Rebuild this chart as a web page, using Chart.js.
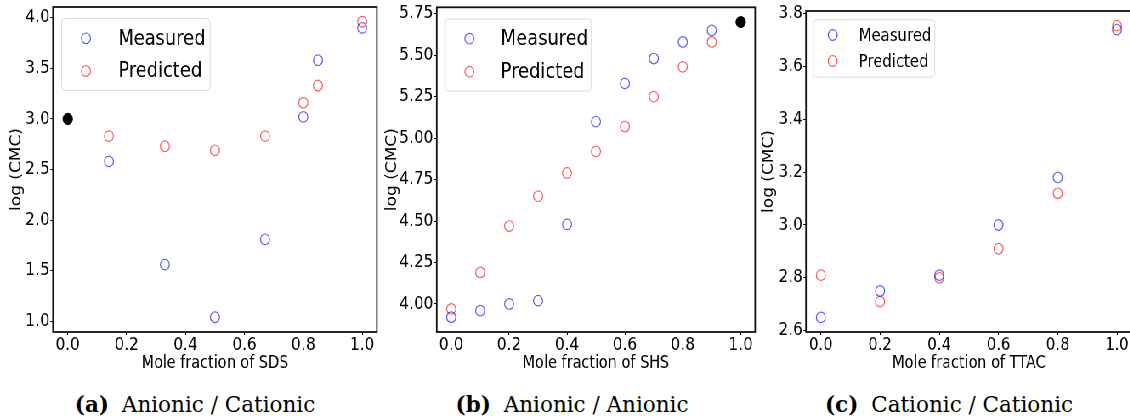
<!DOCTYPE html>
<html>
<head>
<meta charset="utf-8">
<script src="https://cdn.jsdelivr.net/npm/chart.js@4.4.1/dist/chart.umd.min.js"></script>
<style>
  body { margin: 0; background: #fff; width: 1130px; height: 418px; overflow: hidden; position: relative; }
  /* the source figure is squeezed horizontally, so the plots are drawn wider and scaled down */
  #plots { position: absolute; left: 0; top: 0; width: 1340px; height: 380px; transform: scaleX(0.85); transform-origin: 0 0; }
  #plots canvas { position: absolute; top: 0; }
  .caption { position: absolute; top: 392px; width: 300px; text-align: center; font-family: "DejaVu Serif", serif; font-size: 21.5px; color: #000; white-space: nowrap; }
  .caption b { margin-right: 6px; }
</style>
</head>
<body>
<div id="plots">
  <canvas id="chart-a" width="450" height="378" style="left:0px"></canvas>
  <canvas id="chart-b" width="455" height="378" style="left:440px"></canvas>
  <canvas id="chart-c" width="453" height="378" style="left:885px"></canvas>
</div>
<div class="caption" style="left:45px"><b>(a)</b> Anionic / Cationic</div>
<div class="caption" style="left:422px"><b>(b)</b> Anionic / Anionic</div>
<div class="caption" style="left:799px"><b>(c)</b> Cationic / Cationic</div>

<script>
// Shared x ticks
const xTicks = [0.0, 0.2, 0.4, 0.6, 0.8, 1.0];

// (a) SDS mixtures
const sdsFraction = [0.14, 0.33, 0.5, 0.67, 0.8, 0.85, 1.0];
const sdsMeasured = [2.58, 1.56, 1.04, 1.81, 3.02, 3.58, 3.90];
const sdsPredicted = [2.83, 2.73, 2.69, 2.83, 3.16, 3.33, 3.96];
const sdsPureX = [0.0];
const sdsPureY = [3.0];
const sdsYTicks = [1.0, 1.5, 2.0, 2.5, 3.0, 3.5, 4.0];

// (b) SHS mixtures
const shsFraction = [0.0, 0.1, 0.2, 0.3, 0.4, 0.5, 0.6, 0.7, 0.8, 0.9];
const shsMeasured = [3.92, 3.96, 4.00, 4.02, 4.48, 5.10, 5.33, 5.48, 5.58, 5.65];
const shsPredicted = [3.97, 4.19, 4.47, 4.65, 4.79, 4.92, 5.07, 5.25, 5.43, 5.58];
const shsPureX = [1.0];
const shsPureY = [5.70];
const shsYTicks = [4.0, 4.25, 4.5, 4.75, 5.0, 5.25, 5.5, 5.75];

// (c) TTAC mixtures
const ttacFraction = [0.0, 0.2, 0.4, 0.6, 0.8, 1.0];
const ttacMeasured = [2.65, 2.75, 2.81, 3.00, 3.18, 3.74];
const ttacPredicted = [2.81, 2.71, 2.80, 2.91, 3.12, 3.755];
const ttacYTicks = [2.6, 2.8, 3.0, 3.2, 3.4, 3.6, 3.8];

const FONT = 'DejaVu Sans';

function toPoints(xs, ys) {
    return xs.map((x, i) => ({ x: x, y: ys[i] }));
}

// matplotlib style 5% margin around the data
function padRange(lists) {
    const all = [].concat(...lists);
    const lo = Math.min(...all), hi = Math.max(...all);
    const m = (hi - lo) * 0.05;
    return [lo - m, hi + m];
}

// box round the plot area, like the matplotlib spines
const framePlugin = {
    id: 'frame',
    afterDatasetsDraw(chart) {
        const a = chart.chartArea, ctx = chart.ctx;
        ctx.save();
        ctx.strokeStyle = '#111';
        ctx.lineWidth = 1.8;
        ctx.strokeRect(a.left, a.top, a.right - a.left, a.bottom - a.top);
        ctx.restore();
    }
};

// legend inside the axes with a rounded frame
const boxLegendPlugin = {
    id: 'boxLegend',
    afterDraw(chart, args, opts) {
        const a = chart.chartArea, ctx = chart.ctx;
        const items = chart.data.datasets.filter(d => d.label);
        ctx.save();
        ctx.font = opts.fontSize + 'px ' + FONT;
        const textW = Math.max(...items.map(d => ctx.measureText(d.label).width));
        const x0 = a.left + opts.x, y0 = a.top + opts.y;
        const w = opts.textX + textW + opts.padRight - opts.x;
        ctx.beginPath();
        ctx.roundRect(x0, y0, w, opts.height, 4);
        ctx.fillStyle = 'rgba(255,255,255,0.85)';
        ctx.fill();
        ctx.strokeStyle = '#dcdcdc';
        ctx.lineWidth = 1;
        ctx.stroke();
        items.forEach((d, i) => {
            const cy = a.top + opts.rows[i];
            ctx.beginPath();
            ctx.arc(a.left + opts.markerX, cy, d.pointRadius, 0, Math.PI * 2);
            ctx.strokeStyle = d.borderColor;
            ctx.lineWidth = d.borderWidth;
            ctx.stroke();
            ctx.fillStyle = '#000';
            ctx.textBaseline = 'middle';
            ctx.textAlign = 'left';
            ctx.fillText(d.label, a.left + opts.textX, cy + 1);
        });
        ctx.restore();
    }
};

function makeChart(id, cfg) {
    const yRange = padRange(cfg.yData);
    new Chart(document.getElementById(id), {
        type: 'scatter',
        data: {
            datasets: [
                {
                    label: 'Measured',
                    data: toPoints(cfg.x, cfg.measured),
                    pointStyle: 'circle',
                    pointRadius: 5.3,
                    pointHoverRadius: 5.3,
                    borderWidth: 1.2,
                    borderColor: 'rgba(0,0,255,0.65)',
                    backgroundColor: 'rgba(0,0,0,0)'
                },
                {
                    label: 'Predicted',
                    data: toPoints(cfg.x, cfg.predicted),
                    pointStyle: 'circle',
                    pointRadius: 5.3,
                    pointHoverRadius: 5.3,
                    borderWidth: 1.2,
                    borderColor: 'rgba(255,0,0,0.65)',
                    backgroundColor: 'rgba(0,0,0,0)'
                },
                {
                    label: '',
                    data: cfg.pureX ? toPoints(cfg.pureX, cfg.pureY) : [],
                    pointStyle: 'circle',
                    pointRadius: 5.6,
                    pointHoverRadius: 5.6,
                    borderWidth: 1,
                    borderColor: '#000',
                    backgroundColor: '#000'
                }
            ]
        },
        options: {
            responsive: false,
            animation: false,
            devicePixelRatio: 1,
            layout: { padding: cfg.padding },
            plugins: {
                legend: { display: false },
                tooltip: { enabled: false },
                boxLegend: cfg.legend
            },
            scales: {
                x: {
                    type: 'linear',
                    min: -0.05,
                    max: 1.05,
                    afterBuildTicks: s => { s.ticks = xTicks.map(v => ({ value: v })); },
                    afterFit: s => { s.height = 46; s.paddingLeft = 0; s.paddingRight = 0; },
                    grid: { display: true, drawOnChartArea: false, drawTicks: true, tickLength: 3, color: '#000' },
                    border: { display: false },
                    ticks: {
                        color: '#000',
                        font: { family: FONT, size: cfg.tickSize },
                        padding: 0,
                        maxRotation: 0,
                        autoSkip: false,
                        callback: v => v.toFixed(1)
                    },
                    title: {
                        display: true,
                        text: cfg.xTitle,
                        color: '#000',
                        font: { family: FONT, size: 17 },
                        padding: { top: 4, bottom: 4 }
                    }
                },
                y: {
                    type: 'linear',
                    min: yRange[0],
                    max: yRange[1],
                    afterBuildTicks: s => { s.ticks = cfg.yTicks.map(v => ({ value: v })); },
                    afterFit: s => { s.width = cfg.yWidth; s.paddingTop = 0; s.paddingBottom = 0; },
                    grid: { display: true, drawOnChartArea: false, drawTicks: true, tickLength: 3, color: '#000' },
                    border: { display: false },
                    ticks: {
                        color: '#000',
                        font: { family: FONT, size: cfg.tickSize },
                        padding: 1,
                        autoSkip: false,
                        callback: v => v.toFixed(cfg.yDecimals)
                    },
                    title: {
                        display: true,
                        text: 'log (CMC)',
                        color: '#000',
                        font: { family: FONT, size: 17 },
                        padding: { top: 4, bottom: 4 }
                    }
                }
            }
        },
        plugins: [framePlugin, boxLegendPlugin]
    });
}

makeChart('chart-a', {
    x: sdsFraction, measured: sdsMeasured, predicted: sdsPredicted,
    pureX: sdsPureX, pureY: sdsPureY,
    yData: [sdsMeasured, sdsPredicted, sdsPureY],
    yTicks: sdsYTicks, yDecimals: 1, yWidth: 57.35, tickSize: 18,
    xTitle: 'Mole fraction of SDS',
    padding: { left: 5, top: 7, right: 4.1, bottom: 0 },
    legend: { x: 10.2, y: 11.5, height: 72, markerX: 38.8, textX: 76.8, padRight: 5.5, rows: [31.3, 64], fontSize: 21 }
});

makeChart('chart-b', {
    x: shsFraction, measured: shsMeasured, predicted: shsPredicted,
    pureX: shsPureX, pureY: shsPureY,
    yData: [shsMeasured, shsPredicted, shsPureY],
    yTicks: shsYTicks, yDecimals: 2, yWidth: 66.8, tickSize: 18,
    xTitle: 'Mole fraction of SHS',
    padding: { left: 7, top: 7.3, right: 4.8, bottom: 0 },
    legend: { x: 10.1, y: 11.7, height: 72, markerX: 38.4, textX: 75.3, padRight: 4, rows: [31.4, 64.4], fontSize: 21 }
});

makeChart('chart-c', {
    x: ttacFraction, measured: ttacMeasured, predicted: ttacPredicted,
    yData: [ttacMeasured, ttacPredicted],
    yTicks: ttacYTicks, yDecimals: 1, yWidth: 57.9, tickSize: 17.5,
    xTitle: 'Mole fraction of TTAC',
    padding: { left: 5.3, top: 11, right: 4.8, bottom: 0 },
    legend: { x: 8.6, y: 8.7, height: 57.5, markerX: 31.4, textX: 62, padRight: 4, rows: [24, 50], fontSize: 17.5 }
});
</script>
</body>
</html>
